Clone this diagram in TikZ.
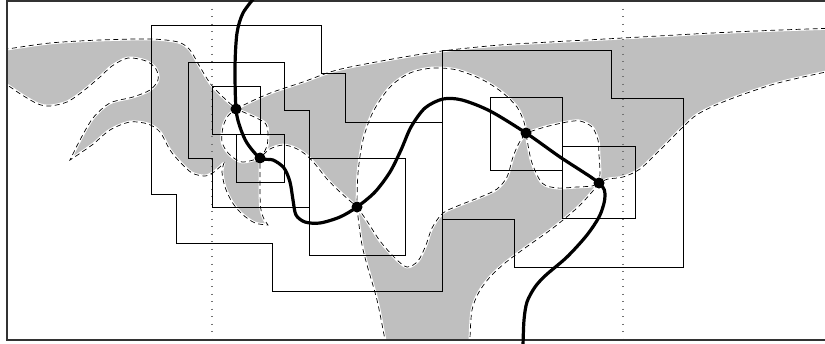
\documentclass[tikz,border=0pt]{standalone}
\begin{document}
\begin{tikzpicture}[x=1pt,y=-1pt,
  greyfill/.style={fill=black!25},
  halo/.style={draw=white, line width=2.8pt, line join=round},
  dashline/.style={draw=black, line width=0.7pt, dash pattern=on 5pt off 3.5pt},
  cellbox/.style={draw=black, line width=1pt},
  guide/.style={draw=black!55, line width=1.1pt, dash pattern=on 1.1pt off 6.4pt},
  frameline/.style={draw=black!80, line width=1.3pt},
  thickpath/.style={draw=black, line width=3.2pt, line cap=round},
  critpt/.style={circle, fill=black, inner sep=0pt, minimum size=11pt}]

\useasboundingbox (0,0) rectangle (825,343);
\clip (0,0) rectangle (825,343);

\coordinate (A) at (236,109);
\coordinate (B) at (260,158);
\coordinate (C) at (357,207);
\coordinate (D) at (526,133);
\coordinate (E) at (599,183);

\def\regionLeft{plot[smooth] coordinates {(-5,50) (7,49) (50,43) (100,40) (150,39) (178,42) (190,50) (200,67) (213,87) (A)}
 -- plot[smooth] coordinates {(A) (228,116) (223,127) (222,142) (229,154) (242,162) (B)}
 -- plot[smooth] coordinates {(B) (260,175) (260,195) (261,210) (264,219) (268,225)}
 -- plot[smooth] coordinates {(268,225) (255,223) (242,214) (232,202) (225,187) (222,172) (224,163)}
 -- plot[smooth] coordinates {(224,163) (214,172) (205,176) (192,173) (180,162) (170,150) (160,132) (148,124) (130,122) (110,130) (92,145) (70,160)}
 -- plot[smooth] coordinates {(70,160) (80,140) (93,118) (110,103) (133,97) (150,90) (158,80) (156,69) (146,61) (128,58) (112,66) (100,77) (82,92) (67,102) (50,106) (38,104) (22,95) (7,85) (-5,80)}
 -- cycle}

\def\regionTop{plot[smooth] coordinates {(A) (252,101) (273,92) (303,82) (337,70) (387,60) (442,51) (500,45) (550,42) (623,38) (712,33) (780,30) (840,28)}
 -- plot[smooth] coordinates {(840,69) (778,83) (728,100) (698,114) (682,128) (660,150) (640,169) (623,177) (608,179) (E)}
 -- plot[smooth] coordinates {(E) (600,172) (599,155) (598,140) (592,127) (580,121) (567,122) (545,127) (D)}
 -- plot[smooth] coordinates {(D) (524,122) (517,107) (503,93) (483,80) (457,70) (433,68) (410,73) (390,87) (373,112) (363,140) (358,173) (C)}
 -- plot[smooth] coordinates {(C) (340,192) (327,179) (315,164) (305,154) (295,148) (283,145) (270,149) (B)}
 -- plot[smooth] coordinates {(B) (263,154) (267,146) (268,133) (265,123) (250,115) (A)}
 -- cycle}

\def\regionMid{plot[smooth] coordinates {(C) (359,225) (362,245) (367,265) (377,300) (385,340) (387,352)}
 -- plot[smooth] coordinates {(470,352) (470,338) (472,310) (479,292) (490,277) (505,263) (525,248) (553,228) (577,208) (592,192) (E)}
 -- plot[smooth] coordinates {(E) (592,186) (577,187) (557,188) (542,183) (532,163) (528,145) (D)}
 -- plot[smooth] coordinates {(D) (519,143) (513,157) (507,177) (497,189) (483,196) (460,205) (443,213) (432,228) (426,245) (418,261) (407,267) (395,258) (380,241) (367,221) (C)}
 -- cycle}

\begin{scope}
  \clip (7,1) rectangle (840,340);
  \fill[greyfill] \regionLeft;
  \fill[greyfill] \regionTop;
  \fill[greyfill] \regionMid;
  \draw[halo] \regionLeft;
  \draw[halo] \regionTop;
  \draw[halo] \regionMid;
  \draw[dashline] \regionLeft;
  \draw[dashline] \regionTop;
  \draw[dashline] \regionMid;
\end{scope}

% dotted guides
\draw[guide] (212,1) -- (212,340);
\draw[guide] (623,1) -- (623,340);

% cells
\draw[cellbox] (212,86) rectangle (260,134);
\draw[cellbox] (236,134) rectangle (284,182);
\draw[cellbox] (188,62) -- (284,62) -- (284,110) -- (309,110) -- (309,207) -- (212,207) -- (212,158) -- (188,158) -- cycle;
\draw[cellbox] (309,158) rectangle (405,255);
\draw[cellbox] (151,25) -- (321,25) -- (321,73) -- (345,73) -- (345,122) -- (442,122) -- (442,291) -- (272,291) -- (272,243) -- (176,243) -- (176,194) -- (151,194) -- cycle;
\draw[cellbox] (442,50) -- (611,50) -- (611,98) -- (683,98) -- (683,267) -- (514,267) -- (514,219) -- (442,219) -- cycle;
\draw[cellbox] (490,97) rectangle (562,170);
\draw[cellbox] (562,146) rectangle (635,218);

% frame
\draw[frameline] (7,1) rectangle (840,340);

% thick curve through critical points
\draw[thickpath] plot[smooth] coordinates {(255,-3) (243,13) (237,33) (235,67) (A) (240,127) (247,143) (B) (273,160) (284,168) (290,182) (293,200) (296,215) (305,222) (320,223) (340,217) (C) (375,192) (390,172) (401,150) (411,127) (425,108) (443,99) (462,100) (490,111) (D) (560,157) (E) (605,196) (600,215) (587,235) (567,257) (546,275) (535,287) (527,302) (524,320) (523,346)};

\node[critpt] (nA) at (A) {};
\node[critpt] (nB) at (B) {};
\node[critpt] (nC) at (C) {};
\node[critpt] (nD) at (D) {};
\node[critpt] (nE) at (E) {};
\end{tikzpicture}
\end{document}
